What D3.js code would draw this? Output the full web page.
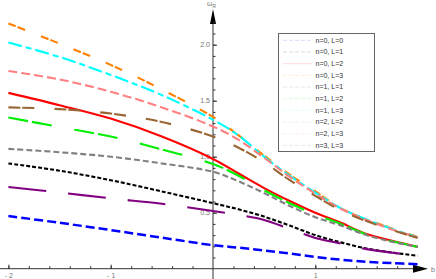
<!DOCTYPE html>
<html>
<head>
<meta charset="utf-8">
<script src="https://cdn.jsdelivr.net/npm/d3@7"></script>
<style>
  body { margin: 0; background: #fff; }
  svg { display: block; font-family: "Liberation Sans", Arial, sans-serif; }
</style>
</head>
<body>
<svg id="chart" width="436" height="279"></svg>
<script>
// sample points along b
var bValues = [-2, -1.5, -1, -0.5, 0, 0.25, 0.5, 0.75, 1, 1.25, 1.5, 1.75, 2];

// omega_R for each (n, L)
var n0L0 = [0.47, 0.41, 0.345, 0.277, 0.21, 0.188, 0.163, 0.135, 0.105, 0.08, 0.062, 0.05, 0.04];
var n0L1 = [0.94, 0.875, 0.79, 0.69, 0.585, 0.53, 0.465, 0.385, 0.30, 0.235, 0.18, 0.145, 0.115];
var n0L2 = [1.57, 1.46, 1.34, 1.18, 0.98, 0.85, 0.72, 0.605, 0.5, 0.41, 0.31, 0.25, 0.195];
var n0L3 = [2.19, 2.01, 1.82, 1.60, 1.355, 1.19, 1.01, 0.84, 0.69, 0.54, 0.44, 0.36, 0.285];
var n1L1 = [0.73, 0.68, 0.628, 0.58, 0.515, 0.48, 0.435, 0.355, 0.275, 0.225, 0.175, 0.143, 0.115];
var n1L2 = [1.35, 1.265, 1.18, 1.065, 0.935, 0.83, 0.70, 0.585, 0.485, 0.40, 0.305, 0.245, 0.195];
var n1L3 = [2.02, 1.89, 1.73, 1.55, 1.33, 1.19, 1.0, 0.83, 0.68, 0.54, 0.44, 0.355, 0.28];
var n2L2 = [1.07, 1.04, 1.0, 0.94, 0.865, 0.78, 0.675, 0.56, 0.46, 0.385, 0.30, 0.24, 0.195];
var n2L3 = [1.765, 1.69, 1.58, 1.44, 1.27, 1.15, 0.99, 0.82, 0.67, 0.535, 0.435, 0.35, 0.28];
var n3L3 = [1.44, 1.425, 1.385, 1.31, 1.18, 1.08, 0.95, 0.79, 0.65, 0.52, 0.425, 0.345, 0.275];

var labels = ["n=0, L=0", "n=0, L=1", "n=0, L=2", "n=0, L=3", "n=1, L=1",
              "n=1, L=2", "n=1, L=3", "n=2, L=2", "n=2, L=3", "n=3, L=3"];
var xMajor = [-2, -1, 1];
var yMajor = [0.5, 1.0, 1.5, 2.0];

var seriesValues = [n0L0, n0L1, n0L2, n0L3, n1L1, n1L2, n1L3, n2L2, n2L3, n3L3];
var colors = ["#0000ff", "#000000", "#ff0000", "#ff8000", "#800080",
              "#00ee00", "#00ffff", "#808080", "#ff8080", "#996633"];
var dashes = ["9,4", "4,2", null, "8,2,8,17", "38,22",
              "20,4,20,23", "14,4,6,4", "6,3", "9,4", "12,2,12,20"];

var svg = d3.select("#chart");

var x = d3.scaleLinear().domain([-2, 2]).range([8.4, 417.6]);
var y = d3.scaleLinear().domain([0, 2]).range([268.7, 44.7]);

// ---- axes ----
var axisColor = "#333";
var labelColor = "#777";

// x axis line + arrow
svg.append("line")
  .attr("x1", 0).attr("x2", 418)
  .attr("y1", y(0)).attr("y2", y(0))
  .attr("stroke", axisColor).attr("stroke-width", 1);
svg.append("path")
  .attr("d", "M413," + (y(0) - 4) + " L428," + y(0) + " L413," + (y(0) + 4) + " Z")
  .attr("fill", "#000");
svg.append("text")
  .attr("x", 431).attr("y", y(0) + 3)
  .attr("font-size", 7).attr("fill", labelColor)
  .text("b");

// y axis line + arrow
svg.append("line")
  .attr("x1", x(0)).attr("x2", x(0))
  .attr("y1", 279).attr("y2", 20)
  .attr("stroke", axisColor).attr("stroke-width", 1);
svg.append("path")
  .attr("d", "M" + (x(0) - 3) + ",24 L" + x(0) + ",9 L" + (x(0) + 3) + ",24 Z")
  .attr("fill", "#000");
var yl = svg.append("text")
  .attr("x", x(0) - 6).attr("y", 6)
  .attr("font-size", 7).attr("fill", labelColor);
yl.append("tspan").text("ω");
yl.append("tspan").attr("font-size", 5).attr("dy", 1.5).text("R");

// minor ticks
var xMinor = d3.range(-2, 2.001, 0.2).filter(function (v) { return Math.abs(v) > 1e-6; });
var yMinor = d3.range(0.1, 2.25, 0.1);

var gx = svg.append("g").attr("transform", "translate(0," + y(0) + ")");
gx.call(d3.axisBottom(x).tickValues(xMinor).tickSize(-2.5).tickFormat(""));
gx.call(function (g) {
  g.append("g").call(d3.axisBottom(x).tickValues(xMajor).tickSizeInner(-4).tickSizeOuter(0)
    .tickPadding(4)
    .tickFormat(function (d) { return d < 0 ? "- " + Math.abs(d) : d; }));
});
gx.selectAll(".domain").remove();
gx.selectAll("line").attr("stroke", axisColor);
gx.selectAll("text").attr("fill", labelColor).attr("font-size", 7)
  .attr("font-family", "Liberation Sans, Arial, sans-serif");

var gy = svg.append("g").attr("transform", "translate(" + x(0) + ",0)");
gy.call(d3.axisLeft(y).tickValues(yMinor).tickSize(-2.5).tickFormat(""));
gy.call(function (g) {
  g.append("g").call(d3.axisLeft(y).tickValues(yMajor).tickSizeInner(-4).tickSizeOuter(0)
    .tickPadding(3)
    .tickFormat(d3.format(".1f")));
});
gy.selectAll(".domain").remove();
gy.selectAll("line").attr("stroke", axisColor);
gy.selectAll("text").attr("fill", labelColor).attr("font-size", 7)
  .attr("font-family", "Liberation Sans, Arial, sans-serif");

// ---- curves ----
var line = d3.line()
  .x(function (d, i) { return x(bValues[i]); })
  .y(function (d) { return y(d); })
  .curve(d3.curveCatmullRom.alpha(0.5));

svg.append("g").selectAll("path")
  .data(seriesValues)
  .enter()
  .append("path")
  .attr("d", line)
  .attr("fill", "none")
  .attr("stroke", function (d, i) { return colors[i]; })
  .attr("stroke-width", function (d, i) { return i === 0 ? 2.5 : 2.1; })
  .attr("stroke-dasharray", function (d, i) { return dashes[i]; });

// ---- legend ----
var legend = svg.append("g");
legend.append("rect")
  .attr("x", 278.5).attr("y", 33.5)
  .attr("width", 96).attr("height", 118)
  .attr("fill", "#fff")
  .attr("stroke", "#666").attr("stroke-width", 1);

var rows = legend.selectAll("g.row")
  .data(labels)
  .enter()
  .append("g")
  .attr("class", "row")
  .attr("transform", function (d, i) { return "translate(0," + (40.3 + i * 11.67) + ")"; });

rows.append("line")
  .attr("x1", 283).attr("x2", 312)
  .attr("y1", 0).attr("y2", 0)
  .attr("stroke", function (d, i) { return colors[i]; })
  .attr("stroke-opacity", 0.12)
  .attr("stroke-width", 1.2)
  .attr("stroke-dasharray", function (d, i) { return dashes[i] ? "4,2" : null; });

rows.append("text")
  .attr("x", 315.5).attr("y", 2.5)
  .attr("font-size", 7).attr("fill", "#333")
  .text(function (d) { return d; });
</script>
</body>
</html>
